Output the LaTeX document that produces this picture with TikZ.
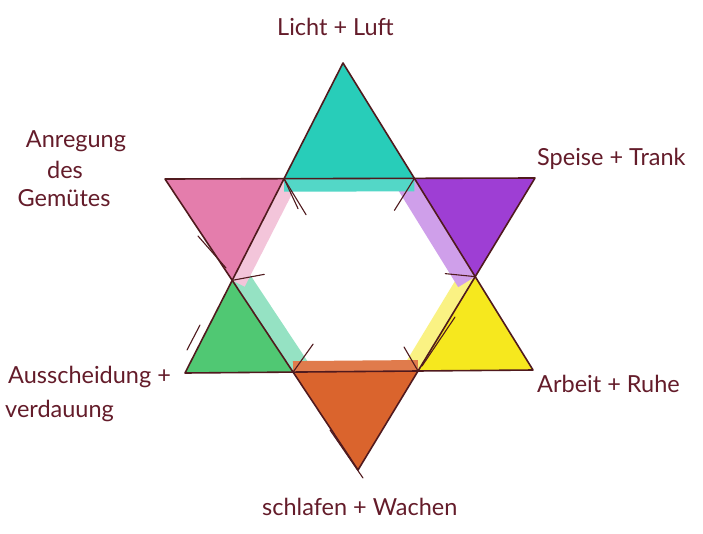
\documentclass[tikz,border=0pt]{standalone}
\usepackage{fontspec}
\setmainfont{Lato}
\usetikzlibrary{calc}
\definecolor{ink}{RGB}{80,26,30}
\definecolor{labelc}{RGB}{100,28,42}
\definecolor{cteal}{RGB}{40,205,185}
\definecolor{cpink}{RGB}{228,125,172}
\definecolor{cpurple}{RGB}{158,62,212}
\definecolor{cyellow}{RGB}{246,232,30}
\definecolor{cgreen}{RGB}{80,200,115}
\definecolor{corange}{RGB}{218,100,45}
\begin{document}
\begin{tikzpicture}[x=1pt,y=-1pt,
  lab/.style={text=labelc, font=\fontsize{23.5}{28}\selectfont, inner sep=0pt},
  edge/.style={draw=ink, line width=1.6pt, line join=round, line cap=round},
  tick/.style={draw=ink, line width=1.1pt, line cap=round},
  spill/.style={line width=#1}]
\useasboundingbox[fill=white] (0,0) rectangle (703,533);
% outer points
\coordinate (A) at (343,63);
\coordinate (B) at (185,373);
\coordinate (C) at (533,370);
\coordinate (D) at (165,179);
\coordinate (E) at (535,178);
\coordinate (F) at (358,470);
% inner hexagon
\coordinate (TL) at (intersection of A--B and D--E);
\coordinate (TR) at (intersection of A--C and D--E);
\coordinate (L) at (intersection of A--B and D--F);
\coordinate (R) at (intersection of A--C and E--F);
\coordinate (BL) at (intersection of B--C and D--F);
\coordinate (BR) at (intersection of B--C and E--F);
% coloured points
\fill[cteal] (A)--(TL)--(TR)--cycle;
\fill[cpink] (D)--(TL)--(L)--cycle;
\fill[cpurple] (E)--(TR)--(R)--cycle;
\fill[cyellow] (C)--(R)--(BR)--cycle;
\fill[cgreen] (B)--(L)--(BL)--cycle;
\fill[corange] (F)--(BL)--(BR)--cycle;
% colour washes spilling into the hexagon
\begin{scope}
  \clip (TL)--(TR)--(R)--(BR)--(BL)--(L)--cycle;
  \draw[cgreen!55!cteal!55!white, spill=36pt] (L)--(BL);
  \draw[cyellow!55!white, spill=30pt] (R)--(BR);
  \draw[cpink!45!white, spill=28pt] (TL)--(L);
  \draw[cpurple!50!white, spill=40pt] (TR)--(R);
  \draw[cteal!80!white, spill=26pt] (TL)--(TR);
  \draw[corange!85!white, spill=22pt] (BL)--(BR);
\end{scope}
% outlines
\draw[edge] (A)--(B)--(C)--cycle;
\draw[edge] (D)--(E)--(F)--cycle;
% hand-drawn overshoot strokes
\draw[tick] (TL) -- ++(22,36);
\draw[tick] (TL) -- ++(14,30);
\draw[tick] (TR) -- ++(-20,32);
\draw[tick] (L) -- ++(32,-6);
\draw[tick] (R) -- ++(-30,-3);
\draw[tick] (BL) -- ++(20,-28);
\draw[tick] (BR) -- ++(-14,-24);
\draw[tick] ($(F)+(-28,-40)$) -- ($(F)+(5,8)$);
\draw[tick] ($(BR)+(37,-54)$) -- ($(BR)+(4,-5)$);
\draw[tick] (198,236) -- (226,268);
\draw[tick] (187,350) -- (200,325);
% labels
\node[lab, anchor=base west] (licht) at (277,35) {Licht + Luft};
\node[lab, anchor=base] (anregung) at (76,147) {Anregung};
\node[lab, anchor=base] (des) at (65,178) {des};
\node[lab, anchor=base] (gemuetes) at (64,206) {Gemütes};
\node[lab, anchor=base west] (speise) at (537,165) {Speise + Trank};
\node[lab, anchor=base west] (aus) at (8,383) {Ausscheidung +};
\node[lab, anchor=base west] (verd) at (5,417) {verdauung};
\node[lab, anchor=base west] (arbeit) at (537,392) {Arbeit + Ruhe};
\node[lab, anchor=base west] (schlaf) at (262,515) {schlafen + Wachen};
\end{tikzpicture}
\end{document}
